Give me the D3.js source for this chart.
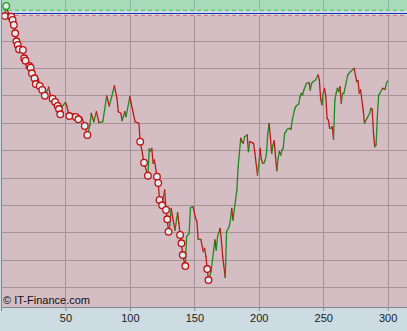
<!DOCTYPE html>
<html>
<head>
<meta charset="utf-8">
<script src="https://cdn.jsdelivr.net/npm/d3@7"></script>
<style>
  body { margin: 0; background: #cddbe3; }
  svg { display: block; }
  .tick text { font-family: "Liberation Sans", Arial, sans-serif; font-size: 11px; fill: #1a1a1a; }
</style>
</head>
<body>
<div id="chart"></div>
<script>
// session days and index values
const days = [3,4,5,6,8,9,10,11,12,13,14,15,17,18,19,22,23,24,26,27,29,30,32,34,37,38,40,42,44,45,46,47,50,51,53,56,58,60,61,62,63,65,67,69,70,72,74,76,79,82,84,86,88,90,91,93,94,96,97,100,101,104,107,108,111,114,115,116,117,118,119,121,122,123,124,125,126,127,128,129,130,131,132,134,135,137,138,139,140,141,143,144,146,147,149,151,152,153,155,157,158,159,160,161,163,165,166,167,168,170,171,172,174,175,177,178,179,180,182,183,184,186,187,188,189,191,192,193,195,196,197,199,200,201,202,203,204,205,206,207,208,209,210,211,212,213,214,215,216,217,218,219,220,221,222,224,225,226,228,229,231,232,233,234,235,237,239,240,241,242,244,246,247,248,249,250,251,252,253,254,255,256,257,258,259,260,261,262,263,264,265,266,268,269,271,274,275,276,277,278,279,281,282,284,286,287,288,289,290,291,292,293,294,296,298,299,300];
const closes = [99.52,101.35,100.4,100.1,99.40,98.79,97.88,96.36,94.90,94.22,93.44,93.86,93.31,91.79,91.35,90.38,90.07,89.05,88.14,87.09,88.01,86.73,86.00,84.96,86.5,85.3,84.4,83.80,83.07,82.52,81.56,82.89,83.71,83.1,81.24,81.61,81.06,80.64,80.9,81.1,80.8,79.42,77.77,79.60,81.74,80.20,82.03,80.02,80.20,84.90,83.07,84.90,86.73,84.48,82.03,81.74,80.39,82.03,81.12,84.77,83.57,80.20,79.91,76.55,72.71,70.33,75.21,74.85,75.34,72.60,73.20,70.15,69.00,65.89,66.3,64.92,66.5,67.72,64.06,62.36,60.09,61.32,64.37,61.63,60.40,63.57,61.63,59.49,57.97,55.83,53.82,59.18,59.80,64.55,64.66,62.54,61.92,58.70,58.70,56.44,57.06,55.52,53.27,51.26,52.78,56.75,58.58,56.75,59.18,60.72,58.58,55.52,51.76,60.09,61.01,62.23,64.37,62.23,65.89,67.72,71.98,77.17,76.55,76.25,77.46,77.77,74.72,76.55,76.36,76.25,74.43,70.46,72.29,75.34,73.3,72.6,72.6,73.2,74.43,78.08,79.91,77.46,74.43,75.94,76.73,73.80,71.25,73.51,74.72,74.12,75.03,75.34,78.08,78.37,78.81,78.99,78.81,80.51,82.65,83.07,83.44,84.77,85.39,85.08,86.00,87.22,87.33,86.00,87.22,87.51,87.83,88.74,87.83,84.4,83.3,85.4,86.31,84.9,80.82,80.51,78.99,78.99,79.29,76.99,84.17,85.39,86.31,85.69,86.60,83.57,85.39,85.39,87.51,88.74,89.34,89.96,88.74,87.51,87.70,85.39,86.00,82.34,79.91,80.82,81.74,82.65,82.47,78.08,75.63,75.94,81.12,85.08,85.39,86.31,86.13,87.22,87.64];

const xTicks = [50, 100, 150, 200, 250, 300];
const gridLevels = [95, 90, 85, 80, 75, 70, 65, 60, 55, 50];
const refLevel = 100;
const upperBand = 100.57;
const lowerBand = 99.65;

const W = 407, H = 331;
const plot = {left: 1, top: 0, right: 407, bottom: 307};

const data = days.map((d, i) => ({day: d, value: closes[i]}));

const x = d3.scaleLinear().domain([0, 315]).range([plot.left, plot.right]);
const y = d3.scaleLinear().domain([46.33, 102.45]).range([plot.bottom, plot.top]);

const svg = d3.select('#chart').append('svg')
  .attr('width', W)
  .attr('height', H);

// plot background
svg.append('rect')
  .attr('x', plot.left).attr('y', plot.top)
  .attr('width', plot.right - plot.left).attr('height', plot.bottom - plot.top)
  .attr('fill', '#d4bec4');

// band above the upper line
svg.append('rect')
  .attr('x', plot.left).attr('y', plot.top)
  .attr('width', plot.right - plot.left).attr('height', y(upperBand) - plot.top)
  .attr('fill', '#a8d9b9');

// neutral band
svg.append('rect')
  .attr('x', plot.left).attr('y', y(upperBand))
  .attr('width', plot.right - plot.left).attr('height', y(lowerBand) - y(upperBand))
  .attr('fill', '#c9dce6');

// grid
svg.append('g')
  .selectAll('line')
  .data(gridLevels)
  .join('line')
  .attr('x1', plot.left).attr('x2', plot.right)
  .attr('y1', d => Math.round(y(d)) + 0.5).attr('y2', d => Math.round(y(d)) + 0.5)
  .attr('stroke', '#a8929a');

svg.append('g')
  .selectAll('line')
  .data(xTicks)
  .join('line')
  .attr('x1', d => Math.round(x(d)) + 0.5).attr('x2', d => Math.round(x(d)) + 0.5)
  .attr('y1', y(lowerBand)).attr('y2', plot.bottom)
  .attr('stroke', '#a8929a');

svg.append('g')
  .selectAll('line')
  .data(xTicks)
  .join('line')
  .attr('x1', d => Math.round(x(d)) + 0.5).attr('x2', d => Math.round(x(d)) + 0.5)
  .attr('y1', plot.top).attr('y2', y(upperBand))
  .attr('stroke', '#8fb59c');

// reference lines
svg.append('line')
  .attr('x1', plot.left).attr('x2', plot.right)
  .attr('y1', y(upperBand)).attr('y2', y(upperBand))
  .attr('stroke', '#3fcf3f').attr('stroke-dasharray', '4,3');
svg.append('line')
  .attr('x1', plot.left).attr('x2', plot.right)
  .attr('y1', y(lowerBand)).attr('y2', y(lowerBand))
  .attr('stroke', '#dd6666').attr('stroke-dasharray', '4,3');
svg.append('line')
  .attr('x1', plot.left).attr('x2', plot.right)
  .attr('y1', Math.round(y(refLevel)) + 0.5).attr('y2', Math.round(y(refLevel)) + 0.5)
  .attr('stroke', '#2233bb').attr('stroke-width', 1.2);

// price segments coloured by direction
const segs = d3.pairs(data);
svg.append('g')
  .selectAll('line')
  .data(segs)
  .join('line')
  .attr('x1', d => x(d[0].day)).attr('y1', d => y(d[0].value))
  .attr('x2', d => x(d[1].day)).attr('y2', d => y(d[1].value))
  .attr('stroke', d => d[1].value >= d[0].value ? '#1f8a1f' : '#c01818')
  .attr('stroke-width', 1.3)
  .attr('stroke-linecap', 'round');

// markers on new lows / new highs
let lo = Infinity, hi = data[0].value;
const marks = [];
data.forEach(d => {
  if (d.value < lo) { lo = d.value; marks.push({d, type: 'low'}); }
  else if (d.value > hi) { hi = d.value; marks.push({d, type: 'high'}); }
});
svg.append('g')
  .selectAll('circle')
  .data(marks)
  .join('circle')
  .attr('cx', m => x(m.d.day)).attr('cy', m => y(m.d.value))
  .attr('r', 3.3)
  .attr('fill', '#e2ecef')
  .attr('stroke', m => m.type === 'low' ? '#c01010' : '#1f9a1f')
  .attr('stroke-width', 1.3);

// axes
const xAxis = d3.axisBottom(x).tickValues(xTicks).tickSize(4).tickPadding(3);
const gx = svg.append('g')
  .attr('transform', `translate(0,${plot.bottom})`)
  .call(xAxis);
gx.select('.domain').attr('stroke', '#7c8a96');
gx.selectAll('.tick line').attr('stroke', '#7c8a96');

svg.append('line')
  .attr('x1', plot.left + 0.5).attr('x2', plot.left + 0.5)
  .attr('y1', plot.top).attr('y2', plot.bottom)
  .attr('stroke', '#7c8a96');

svg.append('text')
  .attr('x', 3).attr('y', 304)
  .attr('font-family', '"Liberation Sans", Arial, sans-serif')
  .attr('font-size', 11)
  .attr('fill', '#111')
  .text('© IT-Finance.com');
</script>
</body>
</html>
